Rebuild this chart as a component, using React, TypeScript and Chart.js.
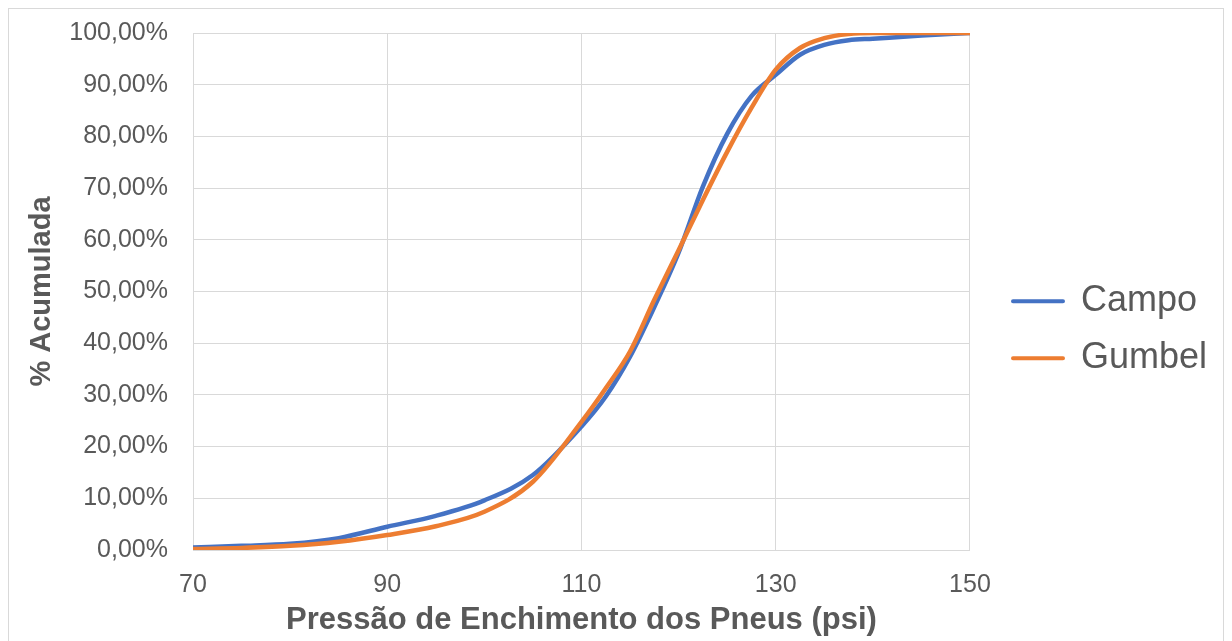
import { useEffect, useRef } from "react";
import { Chart, registerables } from "chart.js";

Chart.register(...registerables);

// Tyre inflation pressure (psi) and cumulative percentages
const pressure = [70, 75, 80, 85, 90, 95, 100, 105, 110, 112.5, 115, 117.5, 120, 122.5, 125, 127.5, 130, 132.5, 135, 137.5, 140, 145, 150];
const campo = [0.5, 0.8, 1.2, 2.3, 4.5, 6.6, 9.6, 14.5, 23.9, 29.7, 37.4, 47.0, 57.5, 70.3, 80.5, 87.8, 91.9, 95.8, 97.7, 98.6, 98.9, 99.5, 100];
const gumbel = [0.2, 0.4, 0.8, 1.6, 2.9, 4.6, 7.4, 13.2, 24.8, 31.3, 38.4, 48.4, 58.0, 67.7, 77.0, 85.5, 92.9, 97.1, 99.0, 99.8, 100, 100, 100];

const seriesNames = ["Campo", "Gumbel"];
const seriesColors = ["#4472C4", "#ED7D31"];

const xTicks = [70, 90, 110, 130, 150];
const yTicks = [0, 10, 20, 30, 40, 50, 60, 70, 80, 90, 100];

const xTitle = "Pressão de Enchimento dos Pneus (psi)";
const yTitle = "% Acumulada";

const FONT = "'Liberation Sans', Arial, Helvetica, sans-serif";
const TEXT = "#595959";
const GRID = "#d9d9d9";

const W = 1214;
const H = 636;

// Places the legend block at a fixed spot to the right of the plot
const legendPlacement = {
  id: "legendPlacement",
  afterLayout(chart: any, _args: any, opts: any) {
    const l = chart.legend;
    if (!l) return;
    const w = l.right - l.left;
    const h = l.bottom - l.top;
    l.left = opts.left;
    l.right = opts.left + w;
    l.top = opts.centerY - h / 2;
    l.bottom = opts.centerY + h / 2;
  },
};

export default function App() {
  const ref = useRef<HTMLCanvasElement | null>(null);

  useEffect(() => {
    if (!ref.current) return;
    const chart = new Chart(ref.current, {
      type: "line",
      data: {
        datasets: [
          {
            label: seriesNames[0],
            data: pressure.map((x, i) => ({ x, y: campo[i] })),
            borderColor: seriesColors[0],
            backgroundColor: seriesColors[0],
            borderWidth: 4.5,
            pointRadius: 0,
            cubicInterpolationMode: "monotone",
            borderCapStyle: "round",
            order: 1,
          },
          {
            label: seriesNames[1],
            data: pressure.map((x, i) => ({ x, y: gumbel[i] })),
            borderColor: seriesColors[1],
            backgroundColor: seriesColors[1],
            borderWidth: 4.5,
            pointRadius: 0,
            cubicInterpolationMode: "monotone",
            borderCapStyle: "round",
            order: 0,
          },
        ],
      },
      options: {
        animation: false,
        responsive: false,
        devicePixelRatio: 1,
        layout: { padding: { left: 14, top: 24, right: 28, bottom: 0 } },
        scales: {
          x: {
            type: "linear",
            min: 70,
            max: 150,
            afterBuildTicks: (s: any) => {
              s.ticks = xTicks.map((v) => ({ value: v }));
            },
            afterFit: (s: any) => {
              s.height = 95;
            },
            ticks: {
              font: { family: FONT, size: 25 },
              color: TEXT,
              padding: 20,
              maxRotation: 0,
              callback: (v: any) => String(v),
            },
            grid: { color: GRID, lineWidth: 1, drawTicks: false },
            border: { color: GRID, width: 1 },
            title: {
              display: true,
              text: xTitle,
              font: { family: FONT, size: 31, weight: "bold" },
              color: TEXT,
              padding: { top: 0, bottom: 6 },
            },
          },
          y: {
            min: 0,
            max: 100,
            afterBuildTicks: (s: any) => {
              s.ticks = yTicks.map((v) => ({ value: v }));
            },
            afterFit: (s: any) => {
              s.width = 170;
              s.paddingTop = 16;
              s.paddingBottom = 16;
            },
            ticks: {
              font: { family: FONT, size: 25 },
              color: TEXT,
              padding: 25,
              callback: (v: any) => Number(v).toFixed(2).replace(".", ",") + "%",
            },
            grid: { color: GRID, lineWidth: 1, drawTicks: false },
            border: { color: GRID, width: 1 },
            title: {
              display: true,
              text: yTitle,
              font: { family: FONT, size: 29, weight: "bold" },
              color: TEXT,
              padding: { top: 2, bottom: 0 },
            },
          },
        },
        plugins: {
          legend: {
            position: "right",
            labels: {
              font: { family: FONT, size: 36 },
              color: TEXT,
              boxWidth: 50,
              boxHeight: 0,
              padding: 21,
              generateLabels: () =>
                seriesNames.map((name, i) => ({
                  text: name,
                  fillStyle: seriesColors[i],
                  strokeStyle: seriesColors[i],
                  lineWidth: 4,
                  lineJoin: "round",
                  fontColor: TEXT,
                  datasetIndex: i,
                  hidden: false,
                })),
            },
          },
          tooltip: { enabled: false },
          legendPlacement: { left: 983, centerY: 320.75 },
        } as any,
      },
      plugins: [legendPlacement],
    } as any);
    return () => chart.destroy();
  }, []);

  return (
    <div style={{ border: `1px solid ${GRID}`, width: W, height: H, background: "#fff" }}>
      <canvas ref={ref} width={W} height={H} style={{ display: "block" }} />
    </div>
  );
}
